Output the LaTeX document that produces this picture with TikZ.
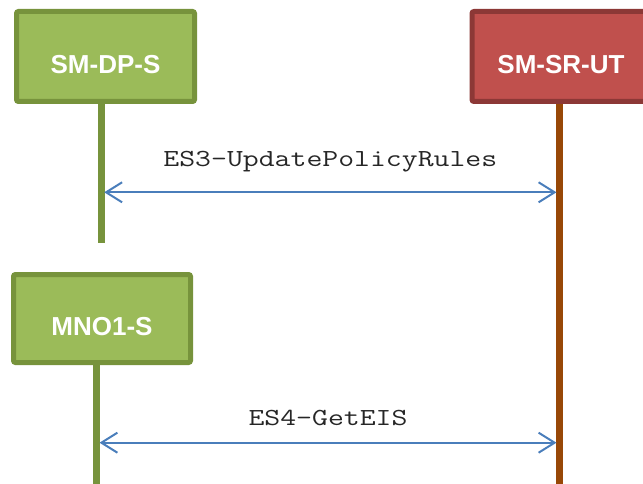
\documentclass[tikz,border=0pt]{standalone}
\usepackage{fontspec}
\usepackage{graphicx}
\setmainfont{Liberation Sans}
\usetikzlibrary{arrows.meta}
\definecolor{grnfill}{HTML}{9BBB59}
\definecolor{grnline}{HTML}{77933C}
\definecolor{redfill}{HTML}{C0504D}
\definecolor{redline}{HTML}{8C3836}
\definecolor{brownline}{HTML}{984807}
\definecolor{msgblue}{HTML}{4A7EBB}
\newcommand{\msgtext}[1]{\scalebox{1.26}[1]{\ttfamily\fontsize{24.5}{24.5}\selectfont #1}}
\tikzset{
  actor/.style={rectangle, rounded corners=2pt, line width=5pt,
    minimum width=178pt, minimum height=90pt, inner sep=0pt,
    text height=34pt, text depth=0pt,
    font=\fontsize{26}{26}\selectfont\bfseries, text=white},
  greenactor/.style={actor, draw=grnline, fill=grnfill},
  redactor/.style={actor, draw=redline, fill=redfill},
  greenlife/.style={draw=grnline, line width=6.5pt},
  brownlife/.style={draw=brownline, line width=6.5pt},
  msg/.style={draw=msgblue, line width=2pt,
    {Straight Barb[length=16pt,width=20pt,line width=2pt]}-{Straight Barb[length=16pt,width=20pt,line width=2pt]}},
  msglabel/.style={anchor=base, inner sep=0pt, text=black!85}
}
\begin{document}
\begin{tikzpicture}[x=1pt,y=-1pt]
\useasboundingbox (0,0) rectangle (643,484);
\clip (0,0) rectangle (643,484);
% lifelines
\coordinate (dpTop) at (101.7,100);
\coordinate (dpBot) at (101.7,243.3);
\coordinate (srTop) at (559.3,100);
\coordinate (srBot) at (559.3,490);
\coordinate (mnoTop) at (96.3,360);
\coordinate (mnoBot) at (96.3,490);
\draw[greenlife] (dpTop) -- (dpBot);
\draw[brownlife] (srTop) -- (srBot);
\draw[greenlife] (mnoTop) -- (mnoBot);
% actors
\node[greenactor] (dp) at (105.5,56.5) {SM-DP-S};
\node[redactor] (sr) at (561,56.5) {SM-SR-UT};
\node[greenactor, minimum width=177pt, minimum height=88pt] (mno) at (102,318.5) {MNO1-S};
% messages
\coordinate (m1a) at (104.2,192.3);
\coordinate (m1b) at (556.5,192.3);
\coordinate (m2a) at (99.5,442.7);
\coordinate (m2b) at (556.5,442.7);
\draw[msg] (m1a) -- node[msglabel, yshift=26pt] (l1) {\msgtext{ES3-UpdatePolicyRules}} (m1b);
\draw[msg] (m2a) -- node[msglabel, yshift=17.7pt] (l2) {\msgtext{ES4-GetEIS}} (m2b);
\end{tikzpicture}
\end{document}
